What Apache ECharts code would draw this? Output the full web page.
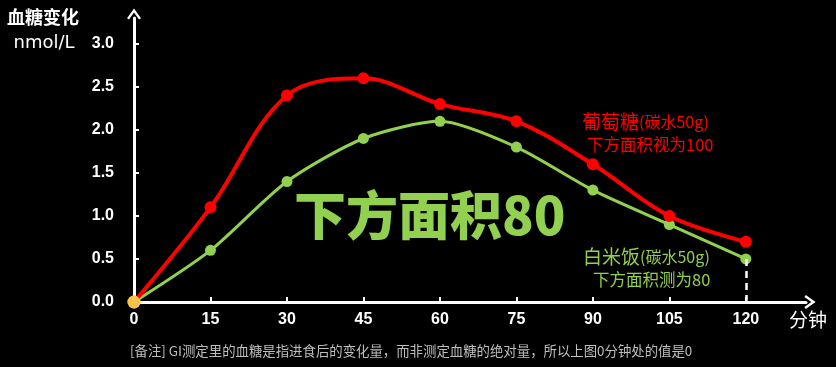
<!DOCTYPE html>
<html><head><meta charset="utf-8">
<script src="https://cdn.jsdelivr.net/npm/echarts@6/dist/echarts.min.js"></script>
<style>html,body{margin:0;padding:0;background:#000;}#c{width:836px;height:367px;}</style>
</head><body><div id="c"></div>
<script>
const minutes = [0, 15, 30, 45, 60, 75, 90, 105, 120];
const glucose = [0, 1.1, 2.4, 2.6, 2.3, 2.1, 1.6, 1.0, 0.7];
const rice = [0, 0.6, 1.4, 1.9, 2.1, 1.8, 1.3, 0.9, 0.5];
const yTicks = [0, 0.5, 1.0, 1.5, 2.0, 2.5, 3.0];
const xTicks = [0, 15, 30, 45, 60, 75, 90, 105, 120];
const yName = ['血糖变化', 'nmol/L'];
const xName = '分钟';
const glucoseLabel = ['葡萄糖', '(碳水50g)', '下方面积视为100'];
const riceLabel = ['白米饭', '(碳水50g)', '下方面积测为80'];
const bigText = '下方面积80';
const note = '[备注] GI测定里的血糖是指进食后的变化量，而非测定血糖的绝对量，所以上图0分钟处的值是0';

const RED = '#ff0000', GREEN = '#92d050', ORANGE = '#f9c34a';
const FONT = '"Liberation Sans", Arial, "Noto Sans CJK SC", sans-serif';
const CJK = '"Noto Sans CJK SC", sans-serif';
const chev = 'path://M5,0 L10,7 L8.6,8 L5,3 L1.4,8 L0,7 Z';

function pts(vals) {
  return vals.map((v, i) => i === 0
    ? { value: [minutes[i], v], symbolSize: 13, itemStyle: { color: ORANGE }, z: 10 }
    : [minutes[i], v]);
}

const chart = echarts.init(document.getElementById('c'));
chart.setOption({
  backgroundColor: '#000',
  animation: false,
  grid: { left: 134, right: 30, top: 18, bottom: 65, outerBoundsMode: 'none', containLabel: false },
  xAxis: {
    type: 'value', min: 0, max: 131.8,
    axisLine: { lineStyle: { color: '#fff', width: 3 }, symbol: ['none', chev], symbolSize: [14, 12], symbolOffset: [0, 4] },
    axisTick: { inside: true, length: 5, lineStyle: { color: '#fff', width: 2 }, customValues: xTicks },
    axisLabel: { color: '#fff', fontSize: 16, fontWeight: 'bold', fontFamily: FONT, margin: 10, customValues: xTicks },
    splitLine: { show: false }
  },
  yAxis: {
    type: 'value', min: 0, max: 3.3,
    axisLine: { show: true, lineStyle: { color: '#fff', width: 3 }, symbol: ['none', chev], symbolSize: [14, 12], symbolOffset: [0, 4] },
    axisTick: { show: true, inside: true, length: 5, lineStyle: { color: '#fff', width: 2 }, customValues: yTicks },
    axisLabel: { color: '#fff', fontSize: 16, fontWeight: 'bold', fontFamily: FONT, margin: 20, formatter: v => v.toFixed(1), customValues: yTicks },
    splitLine: { show: false }
  },
  series: [
    {
      name: '白米饭', type: 'line', data: pts(rice), smooth: 0.25,
      lineStyle: { color: GREEN, width: 3 }, itemStyle: { color: GREEN }, symbol: 'circle', symbolSize: 11,
      markLine: {
        silent: true, symbol: 'none', label: { show: false },
        lineStyle: { color: '#fff', type: [7, 5], width: 2.5 },
        data: [[{ coord: [minutes[8], rice[8]] }, { coord: [minutes[8], 0] }]]
      },
      z: 3
    },
    {
      name: '葡萄糖', type: 'line', data: pts(glucose), smooth: 0.35,
      lineStyle: { color: RED, width: 4 }, itemStyle: { color: RED }, symbol: 'circle', symbolSize: 12,
      z: 4
    }
  ],
  graphic: [
    { type: 'text', x: 43, y: 8, style: { text: yName[0], fill: '#fff', font: 'bold 18px ' + CJK, align: 'center' } },
    { type: 'text', x: 44, y: 34, style: { text: yName[1], fill: '#fff', font: '18px "DejaVu Sans", sans-serif', align: 'center' } },
    { type: 'text', left: 789, top: 310, style: { text: xName, fill: '#fff', font: '19px ' + CJK } },
    { type: 'text', left: 582, top: 112, style: { rich: { a: { fill: RED, font: '19px ' + CJK }, b: { fill: RED, font: '16px ' + CJK } }, text: '{a|' + glucoseLabel[0] + '}{b|' + glucoseLabel[1] + '}' } },
    { type: 'text', left: 587, top: 136, style: { text: glucoseLabel[2], fill: RED, font: '16.5px ' + CJK } },
    { type: 'text', left: 583, top: 247, style: { rich: { a: { fill: GREEN, font: '19px ' + CJK }, b: { fill: GREEN, font: '16px ' + CJK } }, text: '{a|' + riceLabel[0] + '}{b|' + riceLabel[1] + '}' } },
    { type: 'text', left: 593, top: 271, style: { text: riceLabel[2], fill: GREEN, font: '16.5px ' + CJK } },
    { type: 'text', left: 294, top: 189, style: { text: bigText, fill: GREEN, font: '900 52px ' + CJK } },
    { type: 'text', left: 130, top: 344, style: { text: note, fill: '#bfbfbf', font: '13.4px ' + CJK } }
  ]
});
</script></body></html>
